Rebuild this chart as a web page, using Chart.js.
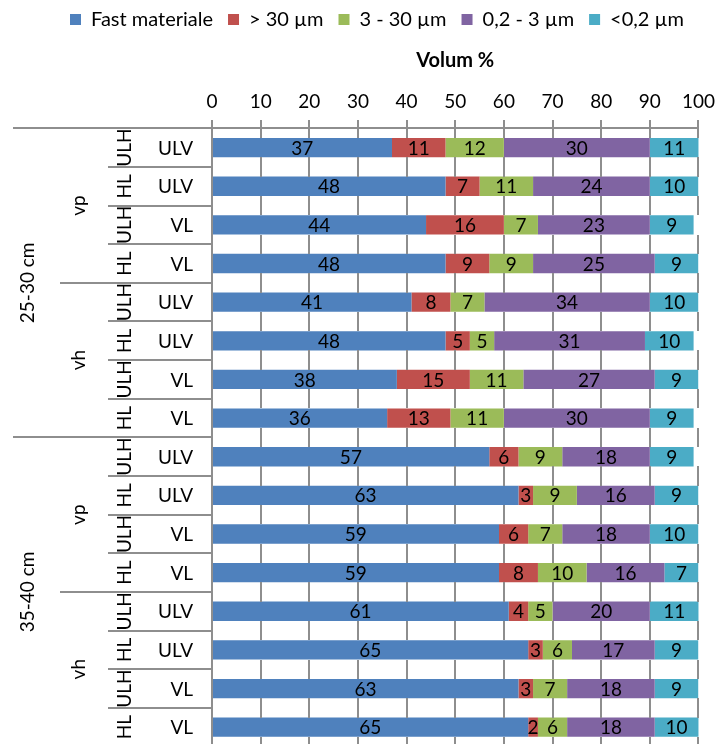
<!DOCTYPE html>
<html>
<head>
<meta charset="utf-8">
<script src="https://cdn.jsdelivr.net/npm/chart.js@4.4.0/dist/chart.umd.min.js"></script>
<style>
  html, body { margin: 0; padding: 0; background: #fff; overflow: hidden; width: 722px; height: 744px; }
  canvas { display: block; }
</style>
</head>
<body>
<canvas id="chart" width="722" height="750"></canvas>
<script>
// Sample rows, top to bottom
const categories = ['ULV', 'ULV', 'VL', 'VL', 'ULV', 'ULV', 'VL', 'VL',
                    'ULV', 'ULV', 'VL', 'VL', 'ULV', 'ULV', 'VL', 'VL'];
const layers = ['ULH', 'HL', 'ULH', 'HL', 'ULH', 'HL', 'ULH', 'HL',
                'ULH', 'HL', 'ULH', 'HL', 'ULH', 'HL', 'ULH', 'HL'];
const sites = ['vp', 'vh', 'vp', 'vh'];          // 4 rows each
const depths = ['25-30 cm', '35-40 cm'];        // 8 rows each

const seriesNames = ['Fast materiale', '> 30 µm', '3 - 30 µm', '0,2 - 3 µm', '<0,2 µm'];
const fastMateriale = [37, 48, 44, 48, 41, 48, 38, 36, 57, 63, 59, 59, 61, 65, 63, 65];
const poresOver30 = [11, 7, 16, 9, 8, 5, 15, 13, 6, 3, 6, 8, 4, 3, 3, 2];
const pores3to30 = [12, 11, 7, 9, 7, 5, 11, 11, 9, 9, 7, 10, 5, 6, 7, 6];
const pores02to3 = [30, 24, 23, 25, 34, 31, 27, 30, 18, 16, 18, 16, 20, 17, 18, 18];
const poresUnder02 = [11, 10, 9, 9, 10, 10, 9, 9, 9, 9, 10, 7, 11, 9, 9, 10];

const xMin = 0, xMax = 100, xStep = 10;
const seriesColors = ['#4F81BD', '#C0504D', '#9BBB59', '#8064A2', '#4BACC6'];
const FONT = 'Lato, "Liberation Sans", sans-serif';
const GRID = '#8e8e8e';

const seriesData = [fastMateriale, poresOver30, pores3to30, pores02to3, poresUnder02];

// value labels centred in the visible part of each segment
const valueLabels = {
  id: 'valueLabels',
  afterDatasetsDraw(chart) {
    const ctx = chart.ctx, area = chart.chartArea;
    ctx.save();
    ctx.font = '19px ' + FONT;
    ctx.fillStyle = '#000';
    ctx.textAlign = 'center';
    ctx.textBaseline = 'middle';
    chart.data.datasets.forEach((ds, i) => {
      const meta = chart.getDatasetMeta(i);
      meta.data.forEach((el, j) => {
        const p = el.getProps(['x', 'base', 'y'], true);
        const l = Math.max(Math.min(p.x, p.base), area.left);
        const r = Math.min(Math.max(p.x, p.base), area.right);
        ctx.fillText(String(ds.data[j]), (l + r) / 2, p.y + 1);
      });
    });
    ctx.restore();
  }
};

// axis furniture: vertical grid lines (only in the gaps between bar rows, so they read
// as lying behind the bars), top axis line with tick marks, and the nested category axis
const axisFrame = {
  id: 'axisFrame',
  afterDraw(chart) {
    const ctx = chart.ctx, xs = chart.scales.x, ys = chart.scales.y, area = chart.chartArea;
    const n = categories.length;
    const band = (ys.bottom - ys.top) / n;
    const left = Math.round(area.left);
    const top = Math.round(area.top);
    ctx.save();
    ctx.fillStyle = GRID;

    // free vertical spans between the bar rows
    const half = chart.getDatasetMeta(0).data[0].getProps(['height'], true).height / 2;
    const spans = [[top - 8, Math.round(ys.getPixelForValue(0) - half)]];
    for (let i = 0; i < n; i++) {
      const a = Math.round(ys.getPixelForValue(i) + half);
      const b = i + 1 < n ? Math.round(ys.getPixelForValue(i + 1) - half) : Math.ceil(area.bottom);
      spans.push([a, b]);
    }
    for (let v = xMin; v <= xMax; v += xStep) {
      const x = Math.round(xs.getPixelForValue(v));
      if (v === xMin) {
        ctx.fillRect(x - 1, top - 8, 2, Math.ceil(area.bottom) - top + 8);
      } else {
        spans.forEach(([a, b]) => ctx.fillRect(x - 1, a, 2, b - a));
      }
    }
    ctx.fillRect(left, top - 1, Math.round(area.right) - left + 1, 2);

    // row separators of the category axis
    for (let k = 0; k <= n; k++) {
      const y = Math.round(ys.top + k * band);
      const x0 = k % 8 === 0 ? 13 : (k % 4 === 0 ? 60 : 108);
      ctx.fillRect(x0, y - 1, left - x0, 2);
    }

    ctx.fillStyle = '#000';
    ctx.font = '19px ' + FONT;
    ctx.textBaseline = 'middle';
    ctx.textAlign = 'right';
    categories.forEach((c, i) => ctx.fillText(c, left - 19, ys.getPixelForValue(i) + 1));
    ctx.textAlign = 'center';
    const vtext = (txt, x, y) => {
      ctx.save();
      ctx.translate(x, y);
      ctx.rotate(-Math.PI / 2);
      ctx.fillText(txt, 0, 0);
      ctx.restore();
    };
    depths.forEach((d, i) => vtext(d, 28, ys.top + (i * 8 + 4) * band));
    sites.forEach((s, i) => vtext(s, 79, ys.top + (i * 4 + 2) * band));
    layers.forEach((s, i) => vtext(s, 125, ys.top + (i + 0.5) * band));
    ctx.restore();
  }
};

new Chart(document.getElementById('chart'), {
  type: 'bar',
  data: {
    labels: categories,
    datasets: seriesNames.map((name, i) => ({
      label: name,
      data: seriesData[i],
      backgroundColor: seriesColors[i],
      borderWidth: 0,
      barPercentage: 0.5,
      categoryPercentage: 1
    }))
  },
  options: {
    indexAxis: 'y',
    responsive: false,
    animation: false,
    layout: { padding: { left: 0, right: 23, top: -5.5, bottom: 3.5 } },
    plugins: {
      legend: {
        position: 'top',
        align: 'end',
        labels: {
          font: { family: FONT, size: 20 },
          color: '#000',
          boxWidth: 11,
          boxHeight: 11,
          padding: 15
        }
      },
      tooltip: { enabled: false }
    },
    scales: {
      x: {
        position: 'top',
        stacked: true,
        min: xMin,
        max: xMax,
        ticks: { stepSize: xStep, font: { family: FONT, size: 19 }, color: '#000', padding: 7 },
        grid: { color: 'rgba(0,0,0,0)', tickLength: 8 },
        border: { display: false },
        title: {
          display: true,
          text: 'Volum %',
          font: { family: FONT, size: 20, weight: 'bold' },
          color: '#000',
          padding: { top: 9, bottom: 11 }
        }
      },
      y: {
        stacked: true,
        ticks: { display: false },
        grid: { display: false },
        border: { display: false },
        afterFit(scale) { scale.width = 212; }
      }
    }
  },
  plugins: [valueLabels, axisFrame]
});
</script>
</body>
</html>
